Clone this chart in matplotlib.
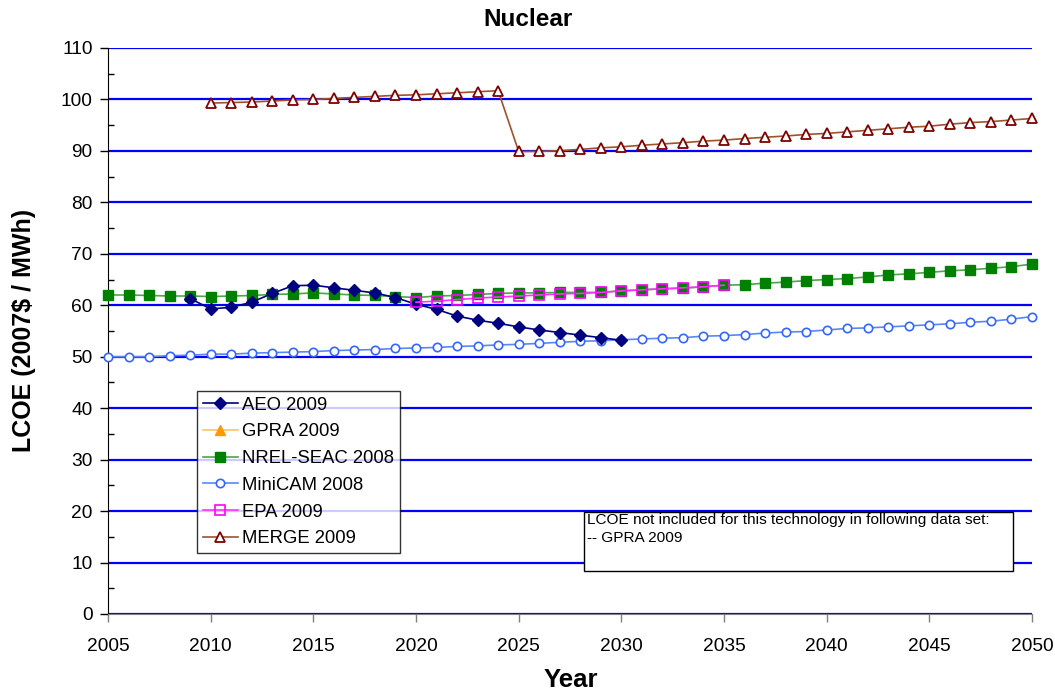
import matplotlib
matplotlib.use("Agg")
import matplotlib.pyplot as plt
from matplotlib.patches import Rectangle
from matplotlib.ticker import MultipleLocator
import numpy as np

plt.rcParams["font.family"] = ["Liberation Sans", "DejaVu Sans"]

# ---- data ----
aeo_years = list(range(2009, 2031))
aeo_vals = [61.3, 59.3, 59.6, 60.6, 62.3, 63.8, 63.9, 63.4, 62.9, 62.4, 61.5,
            60.2, 59.2, 57.9, 57.1, 56.5, 55.8, 55.2, 54.7, 54.2, 53.7, 53.2]

nrel_years = list(range(2005, 2051))
nrel_vals = [62.0, 62.0, 61.9, 61.8, 61.8, 61.7, 61.8, 61.9, 62.1, 62.2,
             62.4, 62.2, 62.0, 61.9, 61.7, 61.5, 61.8, 61.9, 62.1, 62.3,
             62.4, 62.4, 62.5, 62.5, 62.5, 62.8, 63.0, 63.2, 63.3, 63.6,
             63.9, 64.0, 64.3, 64.5, 64.8, 65.0, 65.2, 65.5, 65.9, 66.1,
             66.4, 66.7, 66.9, 67.2, 67.5, 68.0]

minicam_years = list(range(2005, 2051))
minicam_vals = [50.0, 50.0, 50.0, 50.2, 50.3, 50.5, 50.5, 50.7, 50.8, 50.9,
                51.0, 51.2, 51.3, 51.4, 51.6, 51.7, 51.8, 52.0, 52.1, 52.3,
                52.4, 52.6, 52.8, 53.0, 53.1, 53.3, 53.45, 53.6, 53.7, 54.0,
                54.1, 54.3, 54.6, 54.8, 54.9, 55.2, 55.5, 55.6, 55.8, 56.0,
                56.2, 56.4, 56.7, 56.9, 57.3, 57.8]

epa_years = list(range(2020, 2036))
epa_vals = [60.6, 60.8, 61.1, 61.4, 61.6, 61.8, 62.0, 62.2, 62.3, 62.5,
            62.8, 63.0, 63.2, 63.4, 63.6, 63.9]

merge_years = list(range(2010, 2051))
merge_vals = [99.3, 99.4, 99.5, 99.7, 99.9, 100.0, 100.2, 100.4, 100.6, 100.8,
              100.9, 101.1, 101.3, 101.5, 101.7,
              89.9, 89.9, 90.05, 90.3, 90.6, 90.8, 91.1, 91.35, 91.6, 91.9,
              92.1, 92.4, 92.65, 92.9, 93.2, 93.4, 93.7, 94.0, 94.3, 94.6,
              94.8, 95.2, 95.5, 95.7, 96.0, 96.3]

fig = plt.figure(figsize=(10.55, 6.96), dpi=100)
ax = fig.add_axes([108 / 1055, 82 / 696, 924 / 1055, 566 / 696])

# gridlines (blue, major only)
ax.set_axisbelow(True)
ax.yaxis.grid(True, which="major", color="#0000FF", linewidth=1.6)

ax.plot(aeo_years, aeo_vals, color="#000080", linewidth=1.2, marker="D",
        markersize=6.5, markerfacecolor="#000080", markeredgecolor="#000080",
        label="AEO 2009", zorder=4)
ax.plot([], [], color="#FFC266", linewidth=1.2, marker="^", markersize=7.5,
        markerfacecolor="#FF9900", markeredgecolor="#FF9900", label="GPRA 2009")
ax.plot(nrel_years, nrel_vals, color="#4DA64D", linewidth=1.2, marker="s",
        markersize=7, markerfacecolor="#008000", markeredgecolor="#008000",
        label="NREL-SEAC 2008", zorder=3, clip_on=False)
ax.plot(minicam_years, minicam_vals, color="#5B86F5", linewidth=1.2, marker="o",
        markersize=6, markerfacecolor="white", markeredgecolor="#3366FF",
        markeredgewidth=1.2, label="MiniCAM 2008", zorder=3, clip_on=False)
ax.plot(epa_years, epa_vals, color="#FF33FF", linewidth=1.2, marker="s",
        markersize=7, markerfacecolor="none", markeredgecolor="#FF00FF",
        markeredgewidth=1.2, label="EPA 2009", zorder=5)
ax.plot(merge_years, merge_vals, color="#A0522D", linewidth=1.2, marker="^",
        markersize=7.5, markerfacecolor="white", markeredgecolor="#800000",
        markeredgewidth=1.3, label="MERGE 2009", zorder=3, clip_on=False)

ax.set_xlim(2005, 2050)
ax.set_ylim(0, 110)
ax.xaxis.set_major_locator(MultipleLocator(5))
ax.yaxis.set_major_locator(MultipleLocator(10))
ax.yaxis.set_minor_locator(MultipleLocator(5))
ax.tick_params(axis="both", which="major", labelsize=13.8, length=6,
               direction="out", width=1, colors="black")
ax.tick_params(axis="y", which="major", pad=5)
ax.tick_params(axis="x", which="major", pad=11, color="#808080")
ax.tick_params(axis="y", which="minor", length=4, direction="in", width=1)

for s in ["top", "right"]:
    ax.spines[s].set_visible(False)
ax.spines["left"].set_color("black")
ax.spines["bottom"].set_color("#808080")

fig.text(528 / 1055, 1 - 19 / 696, "Nuclear", ha="center", va="center",
         fontsize=17.5, fontweight="bold")
fig.text(24 / 1055, 1 - 330 / 696, "LCOE (2007$ / MWh)", ha="center", va="center",
         rotation=90, fontsize=18, fontweight="bold")
fig.text(571 / 1055, 1 - 680 / 696, "Year", ha="center", va="center",
         fontsize=18.5, fontweight="bold")

leg = ax.legend(loc="upper left", bbox_to_anchor=(197 / 1055, 1 - 391 / 696),
                bbox_transform=fig.transFigure, fontsize=13.3, frameon=True,
                fancybox=False, edgecolor="black", borderaxespad=0,
                handlelength=1.9, labelspacing=0.53, borderpad=0.3,
                handletextpad=0.25)
leg.get_frame().set_linewidth(1.0)

# note box
fig.patches.append(Rectangle((584 / 1055, 1 - 571 / 696), 429 / 1055, 59 / 696,
                             transform=fig.transFigure, facecolor="white",
                             edgecolor="black", linewidth=1.0, zorder=10))
fig.text(587 / 1055, 1 - 513 / 696,
         "LCOE not included for this technology in following data set:\n-- GPRA 2009",
         ha="left", va="top", fontsize=11.1, linespacing=1.4, zorder=11)

fig.savefig("out.png", dpi=100)
